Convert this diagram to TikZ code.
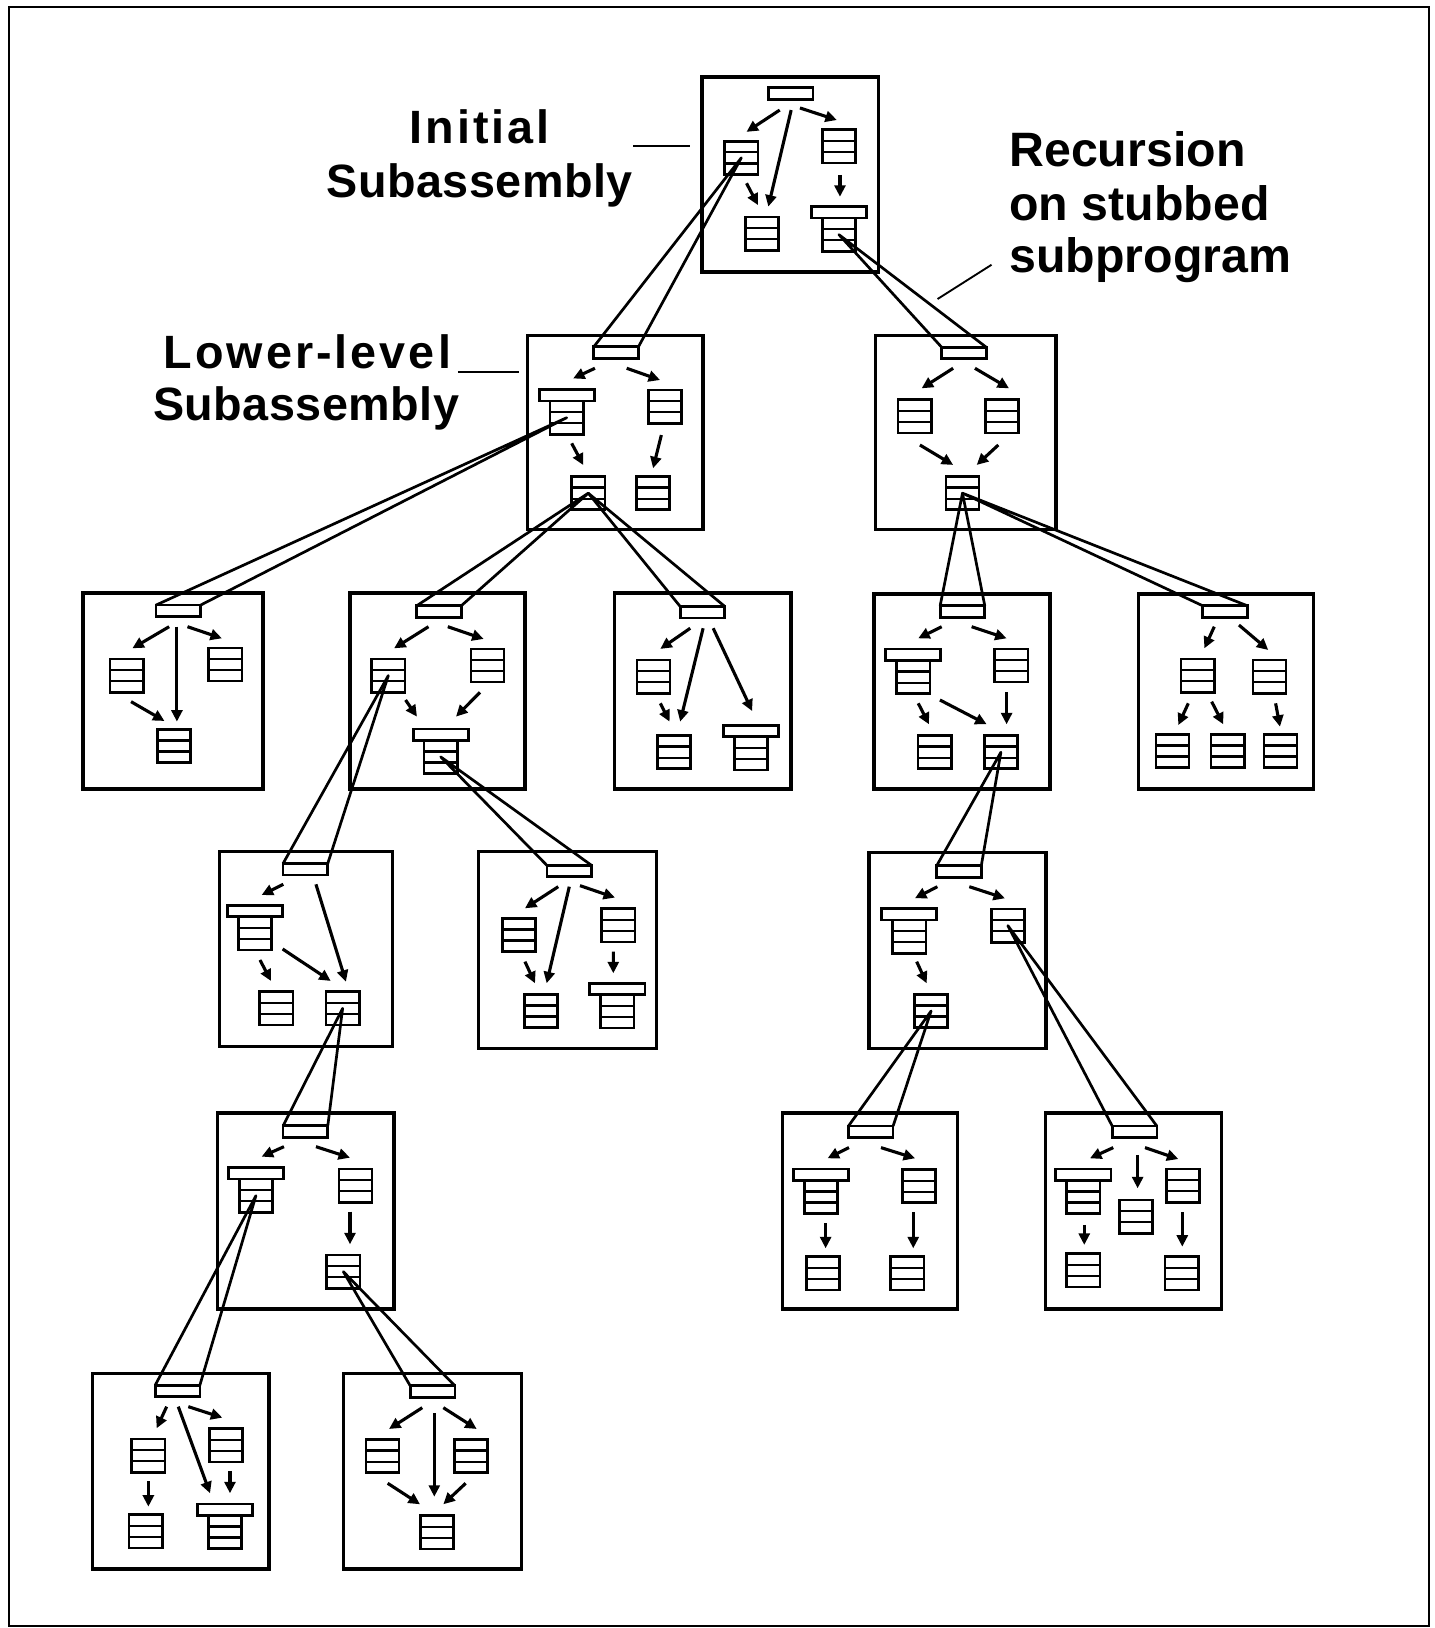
\documentclass[tikz,border=0pt]{standalone}
\usepackage{fontspec}
\newfontfamily\lblfamily{Liberation Sans}
\usetikzlibrary{arrows.meta,calc}
\newcommand\lblfont{\lblfamily\bfseries\fontsize{45}{52}\selectfont}
\newcommand\reclblfont{\lblfamily\bfseries\fontsize{46.5}{52}\selectfont}
\newcommand\arrw[4]{\draw[arw] ([shift={(#2)}]#1.center) -- ([shift={(#4)}]#3.center);}
\newcommand\wdg[2]{\draw[wedgeline] (#2.north west) -- (#1.center) -- (#2.north east);}
\tikzset{
  modbox/.style={draw, line width=2.6pt, minimum width=32pt, minimum height=32pt, inner sep=0pt, outer sep=0pt,
    path picture={
      \draw[line width=2.3pt] ($(path picture bounding box.north west)!0.3333!(path picture bounding box.south west)$) -- ($(path picture bounding box.north east)!0.3333!(path picture bounding box.south east)$);
      \draw[line width=2.3pt] ($(path picture bounding box.north west)!0.6667!(path picture bounding box.south west)$) -- ($(path picture bounding box.north east)!0.6667!(path picture bounding box.south east)$);}},
  topbar/.style={draw, line width=2.6pt, minimum width=43pt, minimum height=11pt, inner sep=0pt, outer sep=0pt},
  stubbar/.style={draw, line width=2.6pt, minimum width=53pt, minimum height=11pt, inner sep=0pt, outer sep=0pt, anchor=south},
  subframe/.style={draw, line width=3.4pt},
  arw/.style={line width=3pt, -{Triangle[length=11pt,width=10.5pt]}},
  wedgeline/.style={line width=2.6pt, line join=round},
  leader/.style={line width=1.8pt},
  lbl/.style={inner sep=0pt, font=\lblfont},
  reclbl/.style={inner sep=0pt, font=\reclblfont},
}
\begin{document}
\begin{tikzpicture}[x=1pt,y=-1pt]
\useasboundingbox (0,0) rectangle (1382,1568);
\draw[line width=2.2pt] (9,7) rectangle (1376,1566);

% ---------- labels ----------
\node[lbl, anchor=base] (initA) at (462,138) {\addfontfeature{LetterSpace=6.5}Initial};
\node[lbl, anchor=base] (initB) at (462,190) {\addfontfeature{LetterSpace=1}Subassembly};
\node[lbl, anchor=base] (lowA) at (296,355) {\addfontfeature{LetterSpace=6.5}Lower-level};
\node[lbl, anchor=base] (lowB) at (295,405) {\addfontfeature{LetterSpace=1}Subassembly};
\node[reclbl, anchor=base west] (recA) at (972,160) {Recursion};
\node[reclbl, anchor=base west] (recB) at (972,212) {on stubbed};
\node[reclbl, anchor=base west] (recC) at (972,262) {subprogram};
\coordinate (initL1) at (610,141); \coordinate (initL2) at (665,141);
\coordinate (lowL1) at (441,358); \coordinate (lowL2) at (500,358);
\coordinate (recL1) at (903,288); \coordinate (recL2) at (955,255);
\draw[leader] (initL1) -- (initL2);
\draw[leader] (lowL1) -- (lowL2);
\draw[leader] (recL1) -- (recL2);

% ---------- frames ----------
\draw[subframe] (676,74) rectangle (846,262);
\draw[subframe] (508,323) rectangle (677,510);
\draw[subframe] (843,323) rectangle (1017,510);
\draw[subframe] (80,571) rectangle (253.5,760);
\draw[subframe] (337,571) rectangle (505.6,760);
\draw[subframe] (592,571) rectangle (762,760);
\draw[subframe] (842,572) rectangle (1011.3,760);
\draw[subframe] (1096.3,572) rectangle (1265,760);
\draw[subframe] (211.2,820) rectangle (378.2,1008);
\draw[subframe] (460.7,820) rectangle (632.5,1010);
\draw[subframe] (837.2,821) rectangle (1007.4,1010);
\draw[subframe] (209.3,1072) rectangle (379.5,1260.7);
\draw[subframe] (753.5,1072) rectangle (922.4,1260.7);
\draw[subframe] (1007.1,1072) rectangle (1176.6,1260.7);
\draw[subframe] (88.9,1322.7) rectangle (259.1,1511);
\draw[subframe] (330.7,1322.7) rectangle (502.4,1511);

% ---------- root box ----------
\node[topbar] (r0) at (761.5,90) {};
\node[modbox] (r1) at (714,152) {};
\node[modbox] (r2) at (808,141) {};
\node[modbox] (r3) at (734,225) {};
\node[modbox] (r4) at (808,226) {};
\node[stubbar] (r4b) at (r4.north) {};
\arrw{r0}{-10.5,16}{r1}{5,-25}
\arrw{r0}{0.5,16}{r3}{6,-26}
\arrw{r0}{9,14}{r2}{-2,-25.4}
\arrw{r1}{5,24.5}{r3}{-4,-27.5}
\arrw{r2}{1,27.5}{r4b}{1,-15}

% ---------- level 2 left ----------
\node[topbar] (a0) at (593.4,339.5) {};
\node[modbox] (a1) at (545.8,402.3) {};
\node[stubbar] (a1b) at (a1.north) {};
\node[modbox] (a2) at (640.5,391.6) {};
\node[modbox] (a3) at (566.6,475) {};
\node[modbox] (a4) at (629,475) {};
\arrw{a0}{-20.4,15.2}{a1b}{6.2,-16.3}
\arrw{a0}{10.2,15.2}{a2}{-4.8,-25.6}
\arrw{a1}{4.8,24.7}{a3}{-4.8,-27.1}
\arrw{a2}{-3.5,27.4}{a4}{0,-24}

% ---------- level 2 right ----------
\node[topbar] (b0) at (928.5,340) {};
\node[modbox] (b1) at (881,401) {};
\node[modbox] (b2) at (965,401) {};
\node[modbox] (b3) at (927,475) {};
\arrw{b0}{-10.5,14.7}{b1}{6.7,-27}
\arrw{b0}{10.5,14.7}{b2}{6.8,-27}
\arrw{b1}{5,27.6}{b3}{-9,-27.2}
\arrw{b2}{-3.5,27.6}{b3}{13.7,-27.2}

% ---------- level 3 A ----------
\node[topbar] (A0) at (171.7,588.3) {};
\node[modbox] (A1) at (122,650.7) {};
\node[modbox] (A2) at (217,640) {};
\node[modbox] (A3) at (167.5,718.6) {};
\arrw{A0}{-8.8,15.3}{A1}{5.5,-26.3}
\arrw{A0}{-1.3,15.3}{A3}{2.9,-23.6}
\arrw{A0}{8.9,15.3}{A2}{-3.3,-25.2}
\arrw{A1}{4.2,25.1}{A3}{-9.1,-24.2}

% ---------- level 3 B ----------
\node[topbar] (B0) at (422.7,589) {};
\node[modbox] (B1) at (374,650.7) {};
\node[modbox] (B2) at (469.5,641) {};
\node[modbox] (B3) at (424.5,729) {};
\node[stubbar] (B3b) at (B3.north) {};
\arrw{B0}{-10,14.6}{B1}{5.6,-26.3}
\arrw{B0}{8.6,14.6}{B2}{-3.7,-25.6}
\arrw{B1}{16.6,23.5}{B3b}{-22.9,-17.3}
\arrw{B2}{-7.2,25.8}{B3b}{14.7,-17.3}

% ---------- level 3 C ----------
\node[topbar] (C0) at (676.6,589.6) {};
\node[modbox] (C1) at (629.4,651.7) {};
\node[modbox] (C2) at (649.3,724.5) {};
\node[modbox] (C3) at (723.4,725.5) {};
\node[stubbar] (C3b) at (C3.north) {};
\arrw{C0}{-11.8,15.5}{C1}{6.6,-26.7}
\arrw{C0}{0.6,15.5}{C2}{5.8,-29.5}
\arrw{C0}{10.3,15.5}{C3b}{1,-19.2}
\arrw{C1}{6.6,25.7}{C2}{-4.4,-29.5}

% ---------- level 3 D ----------
\node[topbar] (D0) at (927,589) {};
\node[modbox] (D1) at (879.6,652.2) {};
\node[stubbar] (D1b) at (D1.north) {};
\node[modbox] (D2) at (974,641) {};
\node[modbox] (D3) at (900.2,724.5) {};
\node[modbox] (D4) at (964,724.5) {};
\arrw{D0}{-20,14.6}{D1b}{4.8,-15.9}
\arrw{D0}{8.8,14.6}{D2}{-4.5,-26.2}
\arrw{D1}{4.8,25.2}{D3}{-5.4,-26.9}
\arrw{D1}{25.7,22}{D4}{-13.7,-26.9}
\arrw{D2}{-4.5,25.8}{D4}{5.5,-26.9}

% ---------- level 3 E ----------
\node[topbar] (E0) at (1180,589) {};
\node[modbox] (E1) at (1153.5,650.7) {};
\node[modbox] (E2) at (1222.7,651.7) {};
\node[modbox] (E3) at (1129.3,723.3) {};
\node[modbox] (E4) at (1182.3,723.3) {};
\node[modbox] (E5) at (1233.3,723.3) {};
\arrw{E0}{-10.5,14.6}{E1}{6.5,-26.3}
\arrw{E0}{13.3,13}{E2}{-1.2,-25.7}
\arrw{E1}{-9,26.7}{E3}{5.6,-25}
\arrw{E1}{13.5,25.1}{E4}{-4.1,-25.7}
\arrw{E2}{5.9,25.7}{E5}{-0.5,-23.4}

% ---------- level 4 L ----------
\node[topbar] (L0) at (294.2,837.1) {};
\node[modbox] (L1) at (245.7,899) {};
\node[stubbar] (L1b) at (L1.north) {};
\node[modbox] (L2) at (266.1,971.2) {};
\node[modbox] (L3) at (330,971.2) {};
\arrw{L0}{-21.3,14.6}{L1b}{6.3,-15.5}
\arrw{L0}{10.1,14.6}{L3}{3.2,-25.7}
\arrw{L1}{4.7,25.6}{L2}{-5.1,-26.4}
\arrw{L1}{26.5,15}{L3}{-11.5,-26.4}

% ---------- level 4 M ----------
\node[topbar] (M0) at (548.3,839) {};
\node[modbox] (M1) at (499.7,900.5) {};
\node[modbox] (M2) at (595.5,891.2) {};
\node[modbox] (M3) at (521.2,973.7) {};
\node[modbox] (M4) at (594.6,974) {};
\node[stubbar] (M4b) at (M4.north) {};
\arrw{M0}{-10.6,15}{M1}{5.9,-25.7}
\arrw{M0}{0,15}{M3}{5.3,-26.7}
\arrw{M0}{10.3,14}{M2}{-3.2,-26.7}
\arrw{M1}{5.9,25.7}{M3}{-5.9,-26.7}
\arrw{M2}{-4.8,25.4}{M4b}{-3.9,-15.1}

% ---------- level 4 N ----------
\node[topbar] (N0) at (923.6,839.4) {};
\node[modbox] (N1) at (875.8,902.1) {};
\node[stubbar] (N1b) at (N1.north) {};
\node[modbox] (N2) at (970.7,891.5) {};
\node[modbox] (N3) at (896.8,973.7) {};
\arrw{N0}{-20.8,14.6}{N1b}{5.4,-15.4}
\arrw{N0}{10,14.6}{N2}{-2.8,-26.3}
\arrw{N1}{7.1,24.1}{N3}{-4.3,-26.7}

% ---------- level 5 O ----------
\node[topbar] (O0) at (294.2,1089.8) {};
\node[modbox] (O1) at (246.5,1151.6) {};
\node[stubbar] (O1b) at (O1.north) {};
\node[modbox] (O2) at (342.4,1142) {};
\node[modbox] (O3) at (330.7,1224.8) {};
\arrw{O0}{-20.7,14.6}{O1b}{5.5,-16.1}
\arrw{O0}{10.1,14.6}{O2}{-5.3,-27}
\arrw{O2}{-5.3,25}{O3}{6.4,-26.4}

% ---------- level 5 P ----------
\node[topbar] (P0) at (838.7,1090) {};
\node[modbox] (P1) at (790.7,1153) {};
\node[stubbar] (P1b) at (P1.north) {};
\node[modbox] (P2) at (885,1142.5) {};
\node[modbox] (P3) at (792.5,1226.4) {};
\node[modbox] (P4) at (874,1226.4) {};
\arrw{P0}{-21,15.3}{P1b}{6.4,-15.9}
\arrw{P0}{9.8,15.3}{P2}{-3.7,-26.9}
\arrw{P1}{4.5,25.2}{P3}{2.7,-24.1}
\arrw{P2}{-5.4,25.1}{P4}{5.6,-24.1}

% ---------- level 5 Q ----------
\node[topbar] (Q0) at (1092.7,1090) {};
\node[modbox] (Q1) at (1043.4,1153) {};
\node[stubbar] (Q1b) at (Q1.north) {};
\node[modbox] (Q2) at (1094.2,1171.8) {};
\node[modbox] (Q3) at (1139.2,1142) {};
\node[modbox] (Q4) at (1043.4,1223.6) {};
\node[modbox] (Q5) at (1138,1226.4) {};
\arrw{Q0}{-20.5,15.3}{Q1b}{6.4,-15.9}
\arrw{Q0}{3,22.4}{Q2}{1.5,-27.3}
\arrw{Q0}{10.1,15.3}{Q3}{-4.3,-25.7}
\arrw{Q1}{0.9,26.8}{Q4}{0.9,-24.6}
\arrw{Q3}{-0.5,25.6}{Q5}{0.7,-25.7}

% ---------- level 6 S ----------
\node[topbar] (S0) at (171,1339.6) {};
\node[modbox] (S1) at (142.9,1402) {};
\node[modbox] (S2) at (217.8,1392) {};
\node[modbox] (S3) at (140.2,1474.8) {};
\node[modbox] (S4) at (216.7,1475.5) {};
\node[stubbar] (S4b) at (S4.north) {};
\arrw{S0}{-10.5,15.2}{S1}{8,-26.4}
\arrw{S0}{0.7,15.2}{S4b}{-14.4,-15.8}
\arrw{S0}{10.4,15.2}{S2}{-3.7,-26.6}
\arrw{S1}{0,24.4}{S3}{2.7,-23.7}
\arrw{S2}{3.7,24.7}{S4b}{4.8,-15.8}

% ---------- level 6 T ----------
\node[topbar] (T0) at (416.6,1340.2) {};
\node[modbox] (T1) at (368.4,1402.5) {};
\node[modbox] (T2) at (453.5,1402.5) {};
\node[modbox] (T3) at (421,1475.9) {};
\arrw{T0}{-9.9,15.6}{T1}{6.3,-26.2}
\arrw{T0}{1.7,21}{T3}{-2.7,-34.4}
\arrw{T0}{10.4,15.6}{T2}{5.6,-26.2}
\arrw{T1}{5,26.1}{T3}{-16.5,-27.1}
\arrw{T2}{-5,26.1}{T3}{6,-27.1}

% ---------- recursion wedges ----------
\wdg{r1}{a0}
\wdg{r4}{b0}
\wdg{a1}{A0}
\wdg{a3}{B0}
\wdg{a3}{C0}
\wdg{b3}{D0}
\wdg{b3}{E0}
\wdg{B1}{L0}
\wdg{B3}{M0}
\wdg{D4}{N0}
\wdg{L3}{O0}
\wdg{N3}{P0}
\wdg{N2}{Q0}
\wdg{O1}{S0}
\wdg{O3}{T0}
\end{tikzpicture}
\end{document}
